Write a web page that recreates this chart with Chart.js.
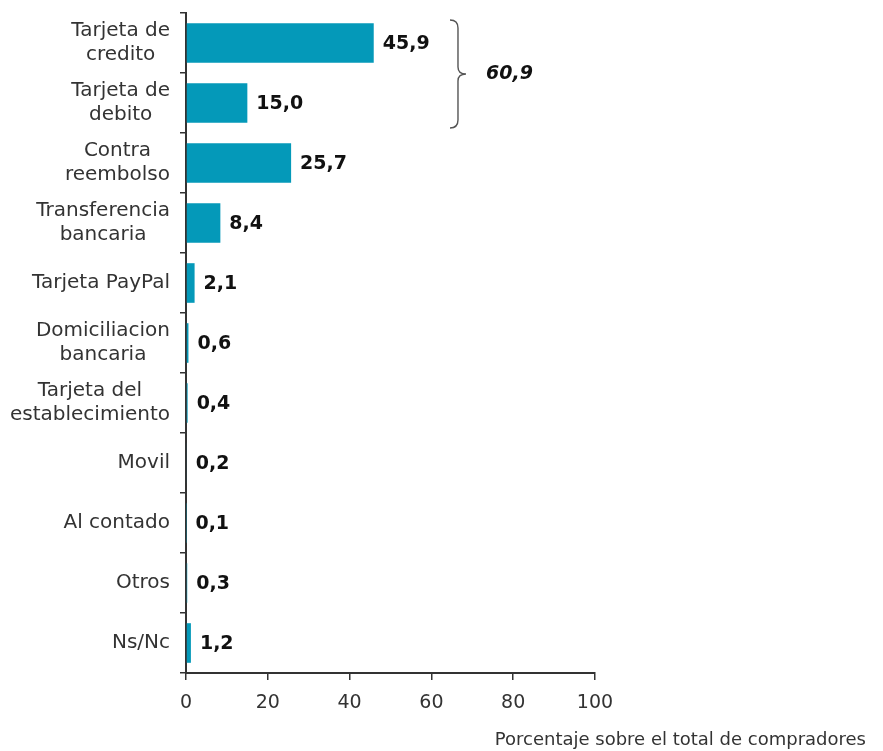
<!DOCTYPE html>
<html>
<head>
<meta charset="utf-8">
<script src="https://cdn.jsdelivr.net/npm/chart.js@4"></script>
<style>
  html, body { margin: 0; padding: 0; background: #fff; }
  #wrap { width: 883px; height: 751px; }
</style>
</head>
<body>
<div id="wrap"><canvas id="payChart" width="883" height="751"></canvas></div>
<script>
const categories = [
    ['Tarjeta de', 'credito'],
    ['Tarjeta de', 'debito'],
    ['Contra', 'reembolso'],
    ['Transferencia', 'bancaria'],
    'Tarjeta PayPal',
    ['Domiciliacion', 'bancaria'],
    ['Tarjeta del', 'establecimiento'],
    'Movil',
    'Al contado',
    'Otros',
    'Ns/Nc'
];
const shares = [45.9, 15.0, 25.7, 8.4, 2.1, 0.6, 0.4, 0.2, 0.1, 0.3, 1.2];
const xTicks = [0, 20, 40, 60, 80, 100];
const braceLabel = '60,9';
const axisTitle = 'Porcentaje sobre el total de compradores';

const FONT = "'DejaVu Sans', Verdana, sans-serif";

// category labels: block right-aligned to the axis, lines centred inside the block
const categoryLabels = {
    id: 'categoryLabels',
    afterDraw(chart) {
        const ctx = chart.ctx;
        const y = chart.scales.y;
        const right = y.right - 16;
        const lh = 24;
        ctx.save();
        ctx.font = '20px ' + FONT;
        ctx.fillStyle = '#333';
        ctx.textAlign = 'center';
        ctx.textBaseline = 'middle';
        categories.forEach((lab, i) => {
            const lines = Array.isArray(lab) ? lab : [lab];
            const w = Math.max(...lines.map(l => ctx.measureText(l).width));
            const cx = right - w / 2;
            const cy = y.getPixelForValue(i);
            const y0 = cy - (lines.length - 1) * lh / 2;
            lines.forEach((l, k) => ctx.fillText(l, cx, y0 + k * lh));
        });
        ctx.restore();
    }
};

// value labels at the end of each bar
const valueLabels = {
    id: 'valueLabels',
    afterDatasetsDraw(chart) {
        const ctx = chart.ctx;
        const meta = chart.getDatasetMeta(0);
        ctx.save();
        ctx.font = 'bold 19px ' + FONT;
        ctx.fillStyle = '#111';
        ctx.textAlign = 'left';
        ctx.textBaseline = 'middle';
        meta.data.forEach((bar, i) => {
            ctx.fillText(shares[i].toFixed(1).replace('.', ','), bar.x + 9, bar.y + 1);
        });
        ctx.restore();
    }
};

// brace grouping the two card categories + axis title
const extras = {
    id: 'extras',
    afterDraw(chart) {
        const ctx = chart.ctx;
        const y = chart.scales.y;
        const x = chart.scales.x;
        const top = y.getPixelForValue(0) - 23;
        const bot = y.getPixelForValue(1) + 25;
        const mid = (top + bot) / 2;
        const bx = x.getPixelForValue(66.5);

        ctx.save();
        ctx.strokeStyle = '#555';
        ctx.lineWidth = 1.4;
        ctx.beginPath();
        ctx.moveTo(bx - 8, top);
        ctx.quadraticCurveTo(bx, top, bx, top + 8);
        ctx.lineTo(bx, mid - 7);
        ctx.quadraticCurveTo(bx, mid, bx + 8, mid);
        ctx.quadraticCurveTo(bx, mid, bx, mid + 7);
        ctx.lineTo(bx, bot - 8);
        ctx.quadraticCurveTo(bx, bot, bx - 8, bot);
        ctx.stroke();

        ctx.font = 'italic bold 19px ' + FONT;
        ctx.fillStyle = '#111';
        ctx.textAlign = 'left';
        ctx.textBaseline = 'middle';
        ctx.fillText(braceLabel, bx + 28, mid);

        ctx.font = '18px ' + FONT;
        ctx.fillStyle = '#333';
        ctx.textAlign = 'right';
        ctx.fillText(axisTitle, chart.width - 17, 740);
        ctx.restore();
    }
};

const ctx = document.getElementById('payChart').getContext('2d');

new Chart(ctx, {
    type: 'bar',
    data: {
        labels: categories,
        datasets: [{
            data: shares,
            backgroundColor: '#0499b9',
            borderWidth: 0,
            barPercentage: 0.66,
            categoryPercentage: 1.0
        }]
    },
    options: {
        indexAxis: 'y',
        responsive: false,
        animation: false,
        devicePixelRatio: 1,
        layout: { padding: { left: 0, right: 288, top: 13, bottom: 0 } },
        plugins: {
            legend: { display: false },
            tooltip: { enabled: false }
        },
        scales: {
            x: {
                min: 0,
                max: 100,
                afterFit(scale) { scale.height = 78; },
                afterBuildTicks(scale) { scale.ticks = xTicks.map(v => ({ value: v })); },
                border: { color: '#333', width: 2 },
                grid: { drawOnChartArea: false, drawTicks: true, tickLength: 7, color: '#333', lineWidth: 1.5 },
                ticks: { color: '#333', padding: 12, font: { family: FONT, size: 19 } }
            },
            y: {
                afterFit(scale) { scale.width = 186; },
                border: { color: '#333', width: 2 },
                grid: { drawOnChartArea: false, drawTicks: true, tickLength: 6, color: '#333', lineWidth: 1.5, offset: true },
                ticks: { display: false }
            }
        }
    },
    plugins: [valueLabels, categoryLabels, extras]
});
</script>
</body>
</html>
